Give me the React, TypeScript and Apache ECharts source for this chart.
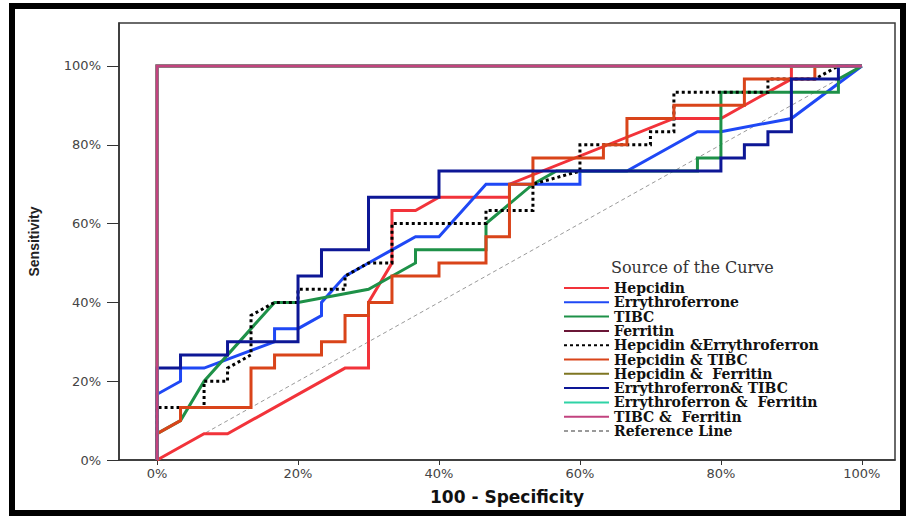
import React, { useEffect, useRef } from "react";
import * as echarts from "echarts";

// ---- Data (percent values) ----
const tickValues = [0, 20, 40, 60, 80, 100];

const seriesNames = [
  "Hepcidin",
  "Errythroferrone",
  "TIBC",
  "Ferritin",
  "Hepcidin &Errythroferron",
  "Hepcidin & TIBC",
  "Hepcidin &  Ferritin",
  "Errythroferron& TIBC",
  "Errythroferron &  Ferritin",
  "TIBC &  Ferritin",
  "Reference Line",
];

const hepcidinX = [0, 6.67, 10, 26.67, 30, 30, 33.33, 33.33, 36.67, 40, 50, 50, 73.33, 80, 90, 90, 100];
const hepcidinY = [0, 6.67, 6.67, 23.33, 23.33, 40, 50, 63.33, 63.33, 66.67, 66.67, 70, 86.67, 86.67, 96.67, 100, 100];

const erythroX = [0, 0, 3.33, 3.33, 6.67, 16.67, 16.67, 20, 23.33, 23.33, 26.67, 30, 33.33, 36.67, 40, 46.67, 60, 60, 66.67, 76.67, 80, 90, 100];
const erythroY = [0, 16.67, 20, 23.33, 23.33, 30, 33.33, 33.33, 36.67, 40, 46.67, 50, 53.33, 56.67, 56.67, 70, 70, 73.33, 73.33, 83.33, 83.33, 86.67, 100];

const tibcX = [0, 0, 3.33, 6.67, 16.67, 20, 30, 36.67, 36.67, 46.67, 46.67, 53.33, 56.67, 76.67, 76.67, 80, 80, 96.67, 96.67, 100];
const tibcY = [0, 6.67, 10, 20, 40, 40, 43.33, 50, 53.33, 53.33, 60, 70, 73.33, 73.33, 76.67, 76.67, 93.33, 93.33, 96.67, 100];

const ferritinX = [0, 0, 100];
const ferritinY = [0, 100, 100];

const hepEryX = [0, 0, 6.67, 6.67, 10, 10, 13.33, 13.33, 16.67, 20, 20, 26.67, 26.67, 30, 33.33, 33.33, 46.67, 46.67, 53.33, 53.33, 60, 60, 70, 70, 73.33, 73.33, 86.67, 86.67, 93.33, 96.67, 100];
const hepEryY = [0, 13.33, 13.33, 20, 20, 23.33, 26.67, 36.67, 40, 40, 43.33, 43.33, 46.67, 50, 50, 60, 60, 63.33, 63.33, 70, 73.33, 80, 80, 83.33, 83.33, 93.33, 93.33, 96.67, 96.67, 100, 100];

const hepTibcX = [0, 0, 3.33, 3.33, 13.33, 13.33, 16.67, 16.67, 23.33, 23.33, 26.67, 26.67, 30, 30, 33.33, 33.33, 40, 40, 46.67, 46.67, 50, 50, 53.33, 53.33, 63.33, 63.33, 66.67, 66.67, 73.33, 73.33, 83.33, 83.33, 93.33, 93.33, 100];
const hepTibcY = [0, 6.67, 10, 13.33, 13.33, 23.33, 23.33, 26.67, 26.67, 30, 30, 36.67, 36.67, 40, 40, 46.67, 46.67, 50, 50, 56.67, 56.67, 70, 70, 76.67, 76.67, 80, 80, 86.67, 86.67, 90, 90, 96.67, 96.67, 100, 100];

const hepFerrX = [0, 0, 100];
const hepFerrY = [0, 100, 100];

const eryTibcX = [0, 0, 3.33, 3.33, 10, 10, 20, 20, 23.33, 23.33, 30, 30, 40, 40, 80, 80, 83.33, 83.33, 86.67, 86.67, 90, 90, 96.67, 96.67, 100];
const eryTibcY = [0, 23.33, 23.33, 26.67, 26.67, 30, 30, 46.67, 46.67, 53.33, 53.33, 66.67, 66.67, 73.33, 73.33, 76.67, 76.67, 80, 80, 83.33, 83.33, 96.67, 96.67, 100, 100];

const eryFerrX = [0, 0, 100];
const eryFerrY = [0, 100, 100];

const tibcFerrX = [0, 0, 100];
const tibcFerrY = [0, 100, 100];

const refX = [0, 100];
const refY = [0, 100];

const seriesX = [hepcidinX, erythroX, tibcX, ferritinX, hepEryX, hepTibcX, hepFerrX, eryTibcX, eryFerrX, tibcFerrX, refX];
const seriesY = [hepcidinY, erythroY, tibcY, ferritinY, hepEryY, hepTibcY, hepFerrY, eryTibcY, eryFerrY, tibcFerrY, refY];

const colors = ["#f2333a", "#1f48f5", "#1e9148", "#6a1636", "#000000", "#d9441a", "#7e7622", "#0d1796", "#2fd3a6", "#c2437f", "#9a9a9a"];

function zip(xs: number[], ys: number[]) {
  return xs.map((x, i) => [x, ys[i]]);
}

export default function App() {
  const ref = useRef<HTMLDivElement>(null);

  useEffect(() => {
    if (!ref.current) return;
    const chart = echarts.init(ref.current, undefined, { renderer: "svg" });

    const series = seriesNames.map((name, i) => {
      const isRef = i === 10;
      const isDotted = i === 4;
      return {
        name,
        type: "line",
        data: zip(seriesX[i], seriesY[i]),
        symbol: "none",
        clip: false,
        z: isRef ? 1 : 2,
        lineStyle: {
          color: colors[i],
          width: isRef ? 1 : 3,
          type: isRef ? [4, 3] : isDotted ? [3, 3] : "solid",
          cap: "butt",
          join: "miter",
        },
        itemStyle: { color: colors[i] },
        emphasis: { disabled: true },
      };
    });

    chart.setOption({
      animation: false,
      backgroundColor: "#ffffff",
      grid: {
        left: 119,
        right: 14,
        top: 23,
        bottom: 56,
        show: true,
        borderColor: "#3a3a3a",
        borderWidth: 1.5,
        backgroundColor: "transparent",
      },
      title: {
        text: "Source of the Curve",
        left: 611,
        top: 259,
        padding: 0,
        textStyle: {
          fontFamily: "DejaVu Serif",
          fontWeight: "normal",
          fontSize: 16,
          color: "#333",
        },
      },
      legend: {
        orient: "vertical",
        left: 563,
        top: 281,
        padding: 0,
        itemGap: 0.3,
        itemWidth: 45,
        itemHeight: 6,
        data: seriesNames,
        selectedMode: false,
        itemStyle: { opacity: 0 },
        textStyle: {
          fontFamily: "DejaVu Serif",
          fontWeight: "bold",
          fontSize: 14,
          lineHeight: 14,
          color: "#111",
        },
      },
      xAxis: {
        type: "value",
        min: -5.4,
        max: 104.7,
        name: "100 - Specificity",
        nameLocation: "middle",
        nameGap: 28,
        nameTextStyle: {
          fontFamily: "DejaVu Sans",
          fontWeight: "bold",
          fontSize: 17,
          color: "#111",
        },
        axisLine: { show: true, onZero: false, lineStyle: { color: "#333", width: 1.5 } },
        axisTick: { show: true, length: 5, customValues: tickValues, lineStyle: { color: "#333" } },
        axisLabel: {
          customValues: tickValues,
          formatter: (v: number) => v + "%",
          margin: 7,
          fontFamily: "DejaVu Sans",
          fontSize: 13,
          color: "#444",
        },
        splitLine: { show: false },
      },
      yAxis: {
        type: "value",
        min: 0,
        max: 110.9,
        name: "Sensitivity",
        nameLocation: "middle",
        nameGap: 78,
        nameTextStyle: {
          fontFamily: "Liberation Sans",
          fontWeight: "bold",
          fontSize: 14,
          color: "#222",
        },
        axisLine: { show: true, onZero: false, lineStyle: { color: "#333", width: 1.5 } },
        axisTick: { show: true, length: 12, customValues: tickValues, lineStyle: { color: "#333" } },
        axisLabel: {
          customValues: tickValues,
          formatter: (v: number) => v + "%",
          margin: 18,
          fontFamily: "DejaVu Sans",
          fontSize: 13,
          color: "#444",
        },
        splitLine: { show: false },
      },
      graphic: [
        {
          type: "rect",
          shape: { x: 12, y: 6, width: 891, height: 507 },
          style: { fill: "none", stroke: "#000", lineWidth: 6 },
          silent: true,
          z: 100,
        },
      ],
      series,
    });

    return () => chart.dispose();
  }, []);

  return (
    <div
      ref={ref}
      style={{ position: "fixed", left: 0, top: 0, width: 909, height: 516, background: "#fff" }}
    />
  );
}
